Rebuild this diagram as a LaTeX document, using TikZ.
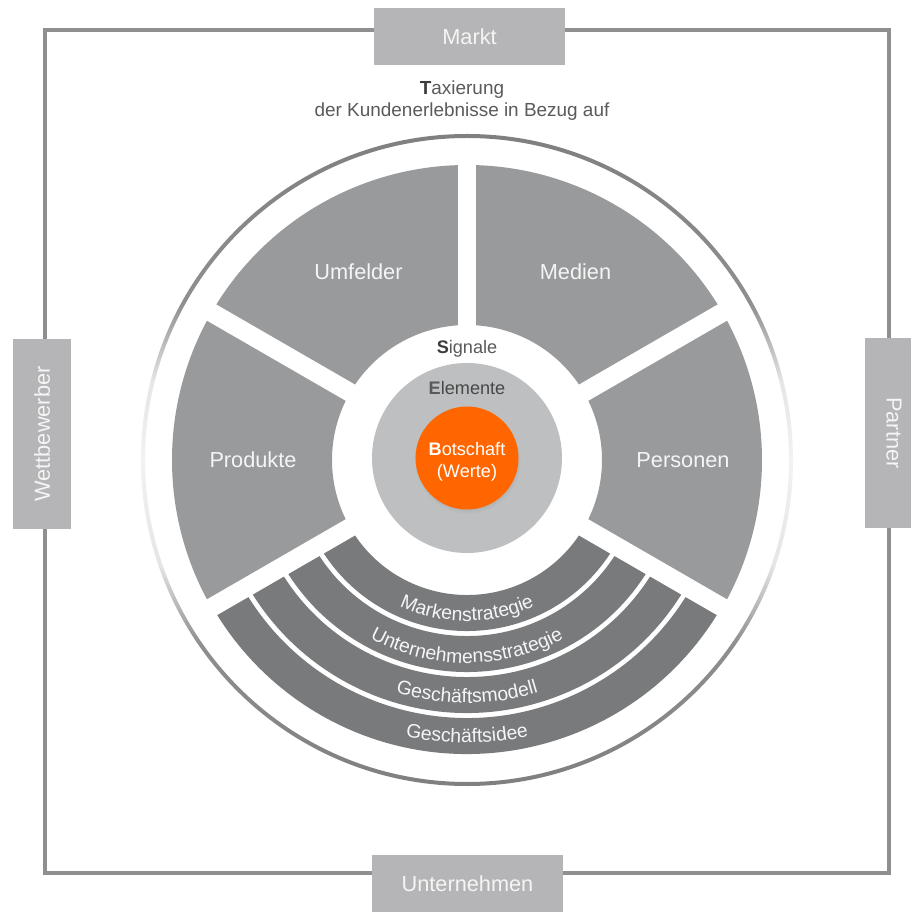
\documentclass[tikz,border=0pt]{standalone}
\usepackage{fontspec}
\setmainfont{Liberation Sans}
\usetikzlibrary{decorations.text,shadows}
\definecolor{sectgray}{HTML}{999A9C}
\definecolor{bandgray}{HTML}{797A7C}
\definecolor{boxgray}{HTML}{B5B5B7}
\definecolor{elemgray}{HTML}{BEBFC1}
\definecolor{framegray}{HTML}{8F8F8F}
\definecolor{txtgray}{HTML}{5A5A5A}
\definecolor{txtdark}{HTML}{3C3C3C}
\definecolor{werteorange}{HTML}{FF6600}
\pgfdeclareverticalshading{ringshade}{100bp}{rgb(0bp)=(0.5,0.5,0.5); rgb(25bp)=(0.5,0.5,0.5);
  rgb(36bp)=(0.56,0.56,0.56); rgb(42bp)=(0.9,0.9,0.9); rgb(50bp)=(0.95,0.95,0.95);
  rgb(56bp)=(0.9,0.9,0.9); rgb(62bp)=(0.56,0.56,0.56); rgb(75bp)=(0.5,0.5,0.5); rgb(100bp)=(0.5,0.5,0.5)}
\tikzset{
  outerframe/.style={draw=framegray, line width=3.4pt},
  lblbox/.style    ={fill=boxgray, text=white!96!black, inner sep=0pt, minimum width=143pt,
                     minimum height=43pt, font=\fontsize{16.3}{19}\selectfont},
  sectfill/.style  ={fill=sectgray},
  bandfill/.style  ={fill=bandgray},
  cutline/.style   ={draw=white, line width=14pt},
  seclbl/.style    ={text=white!96!black, font=\fontsize{16.3}{19}\selectfont},
  graytxt/.style   ={text=txtgray, font=\fontsize{13.6}{16.5}\selectfont, align=center},
  bandtxt/.style   ={decorate, decoration={text along path, text align=center,
                     text={|\color{white!96!black}\fontsize{14.6}{17}\selectfont|#1}}}
}
\begin{document}
\begin{tikzpicture}[x=0.75pt,y=0.75pt]
\useasboundingbox (-467,-453) rectangle (443,460);
\fill[white] (-467,-453) rectangle (443,460);
\draw[outerframe] (-422,430) rectangle (422,-413);
\shade[shading=ringshade, even odd rule] (0,0) circle (326) (0,0) circle (322);

\foreach \a in {-30,30,90,150}
  \fill[sectfill] (\a:135) arc[start angle=\a, end angle=\a+60, radius=135]
    -- ({\a+60}:295) arc[start angle=\a+60, end angle=\a, radius=295] -- cycle;
\foreach \r in {135,176,217,258}
  \fill[bandfill] (210:\r) arc[start angle=210, end angle=330, radius=\r]
    -- (330:{\r+36}) arc[start angle=330, end angle=210, radius=\r+36] -- cycle;
\foreach \a in {30,90,150,210,330}
  \draw[cutline] (\a:125) -- (\a:305);

\fill[elemgray] (0,2) circle (95);
\fill[werteorange, circular drop shadow={shadow xshift=0.5pt, shadow yshift=-2pt, shadow scale=1.03, opacity=0.3}] (0,2) circle (51.5);

\node[lblbox] (markt) at (2.5,423.5) {Markt};
\node[lblbox] (unternehmen) at (0.5,-423.5) {Unternehmen};
\node[lblbox, rotate=90] (wettbewerber) at (-425,26) {Wettbewerber};
\node[lblbox, rotate=-90] (partner) at (427,27) {Partner};

\node[graytxt, font=\fontsize{14.2}{16.5}\selectfont] (taxierung) at (-5,359) {{\bfseries\color{txtdark}T}axierung\\der Kundenerlebnisse in Bezug auf};

\node[seclbl] (umfelder) at (120:217) {Umfelder};
\node[seclbl] (medien) at (60:217) {Medien};
\node[seclbl] (produkte) at (180:214) {Produkte};
\node[seclbl] (personen) at (0:216) {Personen};

\node[graytxt, anchor=base] (signale) at (0,106) {{\bfseries\color{txtdark}S}ignale};
\node[graytxt, anchor=base, text=txtgray!70!elemgray!60!black] (elemente) at (0,65) {{\bfseries\color{txtgray}E}lemente};
\node[graytxt, text=white] (botschaft) at (0,-2) {{\bfseries B}otschaft\\(Werte)};

\path[bandtxt=Markenstrategie] (220:161) arc[start angle=220, end angle=320, radius=161];
\path[bandtxt=Unternehmensstrategie] (220:203) arc[start angle=220, end angle=320, radius=203];
\path[bandtxt=Geschäftsmodell] (220:243) arc[start angle=220, end angle=320, radius=243];
\path[bandtxt=Geschäftsidee] (220:283) arc[start angle=220, end angle=320, radius=283];
\end{tikzpicture}
\end{document}
